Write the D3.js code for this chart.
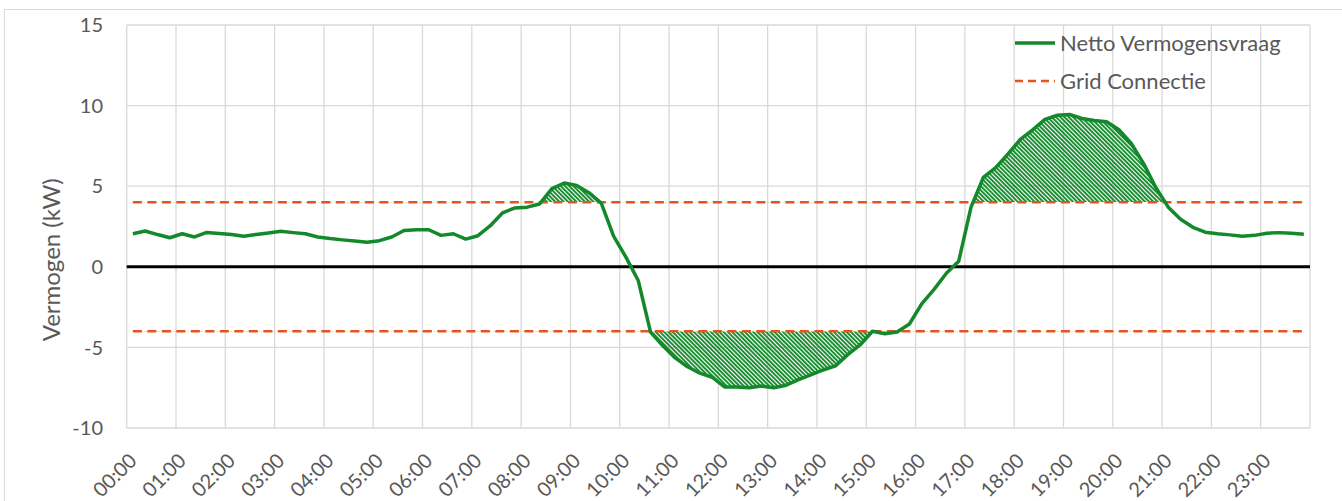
<!DOCTYPE html>
<html>
<head>
<meta charset="utf-8">
<script src="https://cdn.jsdelivr.net/npm/d3@7"></script>
<style>
	body { margin: 0; background: #fff; }
	svg { display: block; font-family: Lato, 'Open Sans', sans-serif; }
</style>
</head>
<body>
<div id="content"></div>
<script>
// kwartierwaarden (96 stuks), kW
let netto = [
	2.05, 2.22, 2.0, 1.8, 2.05, 1.85, 2.13, 2.07,
	2.0, 1.9, 2.0, 2.1, 2.2, 2.12, 2.05, 1.85,
	1.75, 1.67, 1.6, 1.52, 1.62, 1.85, 2.25, 2.3,
	2.3, 1.95, 2.05, 1.72, 1.93, 2.55, 3.35, 3.65,
	3.7, 3.9, 4.85, 5.2, 5.05, 4.6, 3.95, 1.9,
	0.6, -0.85, -4.05, -4.9, -5.65, -6.2, -6.6, -6.85,
	-7.45, -7.45, -7.5, -7.4, -7.5, -7.35, -7.0, -6.7,
	-6.4, -6.15, -5.45, -4.85, -4.0, -4.15, -4.05, -3.55,
	-2.3, -1.4, -0.4, 0.35, 3.7, 5.55, 6.15, 7.0,
	7.9, 8.5, 9.15, 9.4, 9.45, 9.2, 9.08, 9.0,
	8.5, 7.65, 6.4, 4.9, 3.7, 2.95, 2.45, 2.15,
	2.05, 1.98, 1.9, 1.95, 2.08, 2.12, 2.08, 2.02,
]
let hours = ['00:00', '01:00', '02:00', '03:00', '04:00', '05:00', '06:00', '07:00',
	'08:00', '09:00', '10:00', '11:00', '12:00', '13:00', '14:00', '15:00',
	'16:00', '17:00', '18:00', '19:00', '20:00', '21:00', '22:00', '23:00']
let grid_limits = [4, -4]
let y_ticks = [-10, -5, 0, 5, 10, 15]
let legend_labels = ['Netto Vermogensvraag', 'Grid Connectie']

let WIDTH = 1342
let HEIGHT = 501
let PLOT = { left: 126.7, right: 1310, top: 25, bottom: 428 }
let GREEN = '#13892b'
let ORANGE = '#e5541c'
let TEXT = '#595959'
let GRID = '#d9d9d9'

let svg = d3.select('#content').append('svg')
	.attr('width', WIDTH)
	.attr('height', HEIGHT)

let x = d3.scaleBand()
	.domain(d3.range(netto.length))
	.range([PLOT.left, PLOT.right])
let y = d3.scaleLinear()
	.domain([-10, 15])
	.range([PLOT.bottom, PLOT.top])
let cx = (i) => { return x(i) + x.bandwidth() / 2 }

// hatch pattern
let defs = svg.append('defs')
defs.append('pattern')
	.attr('id', 'hatch')
	.attr('patternUnits', 'userSpaceOnUse')
	.attr('width', 3)
	.attr('height', 3)
	.attr('patternTransform', 'rotate(-45)')
	.append('rect')
		.attr('width', 1.9)
		.attr('height', 3)
		.attr('fill', GREEN)

defs.append('clipPath').attr('id', 'clip-up')
	.append('rect')
		.attr('x', PLOT.left).attr('y', PLOT.top)
		.attr('width', PLOT.right - PLOT.left)
		.attr('height', y(grid_limits[0]) - PLOT.top)
defs.append('clipPath').attr('id', 'clip-down')
	.append('rect')
		.attr('x', PLOT.left).attr('y', y(grid_limits[1]))
		.attr('width', PLOT.right - PLOT.left)
		.attr('height', PLOT.bottom - y(grid_limits[1]))

// chart border
svg.append('rect')
	.attr('x', 4.5).attr('y', 9.5)
	.attr('width', WIDTH + 10).attr('height', HEIGHT + 10)
	.attr('fill', 'none')
	.attr('stroke', GRID)

// gridlines
svg.append('g')
	.selectAll('line')
	.data(y_ticks)
	.join('line')
		.attr('x1', PLOT.left).attr('x2', PLOT.right)
		.attr('y1', (d) => { return y(d) }).attr('y2', (d) => { return y(d) })
		.attr('stroke', GRID).attr('stroke-width', 1.3)

svg.append('g')
	.selectAll('line')
	.data(d3.range(hours.length + 1))
	.join('line')
		.attr('x1', (h) => { return h < hours.length ? x(h * 4) : PLOT.right })
		.attr('x2', (h) => { return h < hours.length ? x(h * 4) : PLOT.right })
		.attr('y1', PLOT.top).attr('y2', PLOT.bottom)
		.attr('stroke', GRID).attr('stroke-width', 1.3)

// y axis labels
svg.append('g')
	.selectAll('text')
	.data(y_ticks)
	.join('text')
		.attr('x', 103)
		.attr('y', (d) => { return y(d) })
		.attr('dy', '0.36em')
		.attr('text-anchor', 'end')
		.attr('fill', TEXT)
		.style('font-size', '20px')
		.text((d) => { return d })

svg.append('text')
	.attr('transform', `translate(60, ${y(0) - 7}) rotate(-90)`)
	.attr('text-anchor', 'middle')
	.attr('fill', TEXT)
	.style('font-size', '24px')
	.text('Vermogen (kW)')

// x axis labels
svg.append('g')
	.selectAll('text')
	.data(hours)
	.join('text')
		.attr('transform', (d, h) => { return `translate(${cx(h * 4) + 5}, ${462}) rotate(-45)` })
		.attr('text-anchor', 'end')
		.attr('fill', TEXT)
		.style('font-size', '20px')
		.text((d) => { return d })

// hatched areas
let area_up = d3.area()
	.x((d, i) => { return cx(i) })
	.y0(y(grid_limits[0]))
	.y1((d) => { return y(d) })
let area_down = d3.area()
	.x((d, i) => { return cx(i) })
	.y0(y(grid_limits[1]))
	.y1((d) => { return y(d) })

svg.append('path')
	.attr('d', area_up(netto))
	.attr('clip-path', 'url(#clip-up)')
	.attr('fill', 'url(#hatch)')
svg.append('path')
	.attr('d', area_down(netto))
	.attr('clip-path', 'url(#clip-down)')
	.attr('fill', 'url(#hatch)')

// zero line
svg.append('line')
	.attr('x1', PLOT.left).attr('x2', PLOT.right)
	.attr('y1', y(0)).attr('y2', y(0))
	.attr('stroke', '#000').attr('stroke-width', 3)

// grid connection limits
svg.append('g')
	.selectAll('line')
	.data(grid_limits)
	.join('line')
		.attr('x1', cx(0)).attr('x2', cx(netto.length - 1))
		.attr('y1', (d) => { return y(d) }).attr('y2', (d) => { return y(d) })
		.attr('stroke', ORANGE)
		.attr('stroke-width', 2.5)
		.attr('stroke-dasharray', '9,5.5')

// net demand line
svg.append('path')
	.attr('d', d3.line()
		.x((d, i) => { return cx(i) })
		.y((d) => { return y(d) })(netto))
	.attr('fill', 'none')
	.attr('stroke', GREEN)
	.attr('stroke-width', 3.5)
	.attr('stroke-linejoin', 'round')

// legend
let legend = svg.append('g')
	.selectAll('g')
	.data(legend_labels)
	.join('g')
		.attr('transform', (d, i) => { return `translate(1015, ${43 + i * 38})` })

legend.append('line')
	.attr('x1', 0).attr('x2', 40)
	.attr('stroke', (d, i) => { return i == 0 ? GREEN : ORANGE })
	.attr('stroke-width', (d, i) => { return i == 0 ? 3.5 : 2.5 })
	.attr('stroke-dasharray', (d, i) => { return i == 0 ? null : '8,5' })

legend.append('text')
	.attr('x', 45)
	.attr('dy', '0.36em')
	.attr('fill', TEXT)
	.style('font-size', '22px')
	.text((d) => { return d })
</script>
</body>
</html>
